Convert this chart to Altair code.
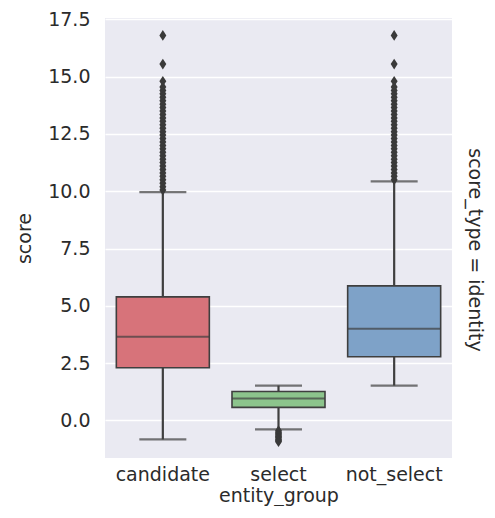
import altair as alt
import pandas as pd

groups = ["candidate", "select", "not_select"]
q1 = [2.30, 0.57, 2.78]
median = [3.65, 0.96, 4.00]
q3 = [5.39, 1.26, 5.87]
whisk_lo = [-0.83, -0.39, 1.52]
whisk_hi = [9.96, 1.52, 10.43]
fills = ["#d7737a", "#8cc48c", "#7ea2c8"]

cand_outliers = [10.05, 10.2, 10.35, 10.5, 10.65, 10.8, 10.95, 11.1, 11.25, 11.4,
                 11.55, 11.7, 11.85, 12.0, 12.15, 12.3, 12.45, 12.6, 12.75, 12.9,
                 13.05, 13.2, 13.35, 13.5, 13.65, 13.8, 13.95, 14.1, 14.25, 14.4,
                 14.55, 14.8, 15.55, 16.8]
sel_outliers = [-0.45, -0.52, -0.58, -0.64, -0.7, -0.76, -0.82, -0.88, -0.93]
notsel_outliers = [10.5, 10.65, 10.8, 10.95, 11.1, 11.25, 11.4, 11.55, 11.7, 11.85,
                   12.0, 12.15, 12.3, 12.45, 12.6, 12.75, 12.9, 13.05, 13.2, 13.35,
                   13.5, 13.65, 13.8, 13.95, 14.1, 14.25, 14.4, 14.55, 14.8, 15.55, 16.8]

box = pd.DataFrame({"entity_group": groups, "q1": q1, "median": median, "q3": q3,
                    "lo": whisk_lo, "hi": whisk_hi})
out = pd.DataFrame({
    "entity_group": ["candidate"] * len(cand_outliers) + ["select"] * len(sel_outliers)
    + ["not_select"] * len(notsel_outliers),
    "score": cand_outliers + sel_outliers + notsel_outliers,
})

FONT = "DejaVu Sans"
TXT = "#2b2b2b"
W, H = 347, 440
FS = 19

xenc = alt.X("entity_group:N", sort=groups, title="entity_group",
             scale=alt.Scale(paddingInner=0, paddingOuter=0),
             axis=alt.Axis(labelAngle=0, labelPadding=7, titlePadding=2, grid=False,
                           domain=False, ticks=False))
yscale = alt.Scale(domain=[-1.64, 17.56], nice=False, zero=False)
yaxis = alt.Axis(values=[0, 2.5, 5, 7.5, 10, 12.5, 15, 17.5], format=".1f",
                 labelPadding=15, titlePadding=13, domain=False, ticks=False,
                 gridColor="white", gridWidth=1.5)

base = alt.Chart(box)
EDGE = "#3f3f3f"

whisk = base.mark_rule(color=EDGE, strokeWidth=2.2).encode(
    x=xenc, y=alt.Y("lo:Q", scale=yscale, axis=yaxis, title="score"), y2="hi:Q")
caps_lo = base.mark_tick(color=EDGE, thickness=2.2, size=47).encode(x=xenc, y=alt.Y("lo:Q", scale=yscale))
caps_hi = base.mark_tick(color=EDGE, thickness=2.2, size=47).encode(x=xenc, y=alt.Y("hi:Q", scale=yscale))
bars = base.mark_bar(size=93, stroke=EDGE, strokeWidth=1.6).encode(
    x=xenc, y=alt.Y("q1:Q", scale=yscale), y2="q3:Q",
    color=alt.Color("entity_group:N", scale=alt.Scale(domain=groups, range=fills), legend=None))
med = base.mark_tick(color=EDGE, thickness=2, size=93).encode(x=xenc, y=alt.Y("median:Q", scale=yscale))
pts = alt.Chart(out).mark_point(shape="M0,-1L0.65,0L0,1L-0.65,0Z", filled=True, opacity=1,
                                color="#3a3a3a", size=115).encode(
    x=xenc, y=alt.Y("score:Q", scale=yscale))
hdr = alt.Chart(pd.DataFrame({"t": ["score_type = identity"]})).mark_text(
    angle=90, font=FONT, fontSize=FS, color=TXT, align="center", baseline="middle").encode(
    text="t:N", x=alt.value(W + 23), y=alt.value(H / 2 + 12))

chart = alt.layer(whisk, caps_lo, caps_hi, bars, med, pts, hdr).properties(
    width=W, height=H,
    autosize=alt.AutoSizeParams(type="none"),
    padding={"left": 97, "top": 10, "right": 35, "bottom": 48},
).configure_view(fill="#eaeaf2", stroke=None).configure_axis(
    labelFont=FONT, titleFont=FONT, labelFontSize=FS, titleFontSize=FS,
    labelColor=TXT, titleColor=TXT, titleFontWeight="normal")

chart.save("out.html", embed_options={"renderer": "svg", "actions": False})
